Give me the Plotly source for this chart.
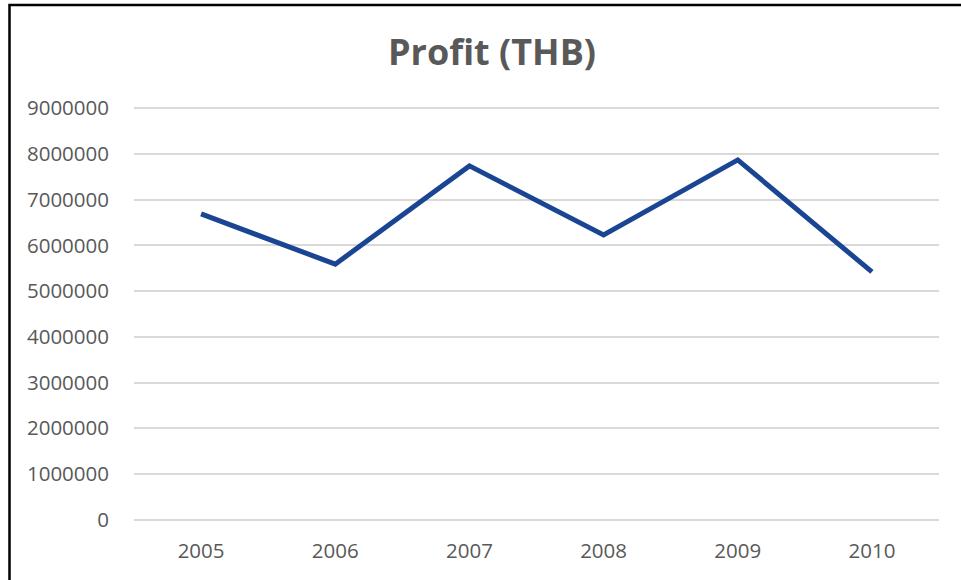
import plotly.graph_objects as go

years = ["2005", "2006", "2007", "2008", "2009", "2010"]
profit = [6690000, 5590000, 7740000, 6230000, 7870000, 5420000]
y_ticks = [0, 1000000, 2000000, 3000000, 4000000, 5000000, 6000000, 7000000, 8000000, 9000000]

fig = go.Figure()
fig.add_trace(go.Scatter(
    x=years, y=profit, mode="lines",
    line=dict(color="#1A4593", width=5),
    hoverinfo="x+y",
))

W, H = 961, 580
l, r, t, b = 134, 22, 106, 58
pw, ph = W - l - r, H - t - b

fig.update_layout(
    width=W, height=H,
    margin=dict(l=l, r=r, t=t, b=b),
    paper_bgcolor="white", plot_bgcolor="white",
    showlegend=False,
    title=dict(text="<b>Profit (THB)</b>", x=492 / W, xanchor="center",
               y=1 - 52 / H, yanchor="middle",
               font=dict(family="Open Sans", size=36, color="#595959")),
    font=dict(family="Open Sans", color="#595959", size=20),
)
fig.update_xaxes(type="category", range=[-0.5, 5.5], showgrid=False, zeroline=False,
                 showline=False, ticks="", ticklabelstandoff=14,
                 tickfont=dict(size=20.5, color="#595959"))
fig.update_yaxes(range=[-50000, 9050000], tickvals=y_ticks, ticktext=[str(v) for v in y_ticks],
                 showgrid=True, gridcolor="#D9D9D9", gridwidth=1.5, zeroline=False,
                 showline=False, ticks="", ticklabelstandoff=24,
                 tickfont=dict(size=20.5, color="#595959"))

# outer chart border
x0 = (9.5 - l) / pw
x1 = (W + 5 - l) / pw
y1 = 1 + (t - 5) / ph
y0 = -(b + 5) / ph
fig.add_shape(type="rect", xref="paper", yref="paper", x0=x0, x1=x1, y0=y0, y1=y1,
              line=dict(color="black", width=2.5), layer="below")

fig.write_html("out.html", config={"displayModeBar": False},
               post_script="document.body.style.margin='0';")
